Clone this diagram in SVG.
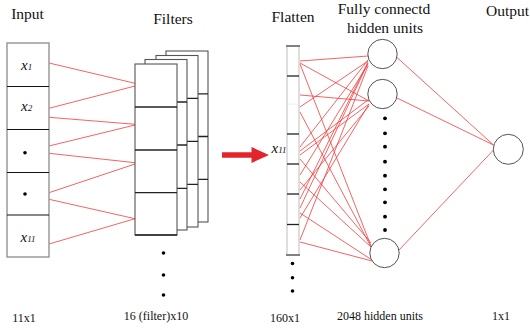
<svg xmlns="http://www.w3.org/2000/svg" width="530" height="330" viewBox="0 0 530 330">
<style>
.lbl{font-family:"Liberation Serif","Times New Roman",serif;font-size:15.5px;fill:#111;text-anchor:middle}
.sm{font-family:"Liberation Serif","Times New Roman",serif;font-size:12px;fill:#111;text-anchor:middle}
.var{font-family:"Liberation Serif","Times New Roman",serif;font-style:italic;fill:#111}
.box{fill:#fff;stroke:#9a9a9a;stroke-width:1.5}
.div{stroke:#111;stroke-width:1.2}
.fil{fill:#fff;stroke:#555;stroke-width:1.1}
.fdiv{stroke:#222;stroke-width:1.3}
.node{fill:#fff;stroke:#555;stroke-width:1}
.dot{fill:#000}
.red{stroke:#f23b3b;stroke-width:0.8;fill:none}
</style>
<rect width="530" height="330" fill="#fff"/>

<g id="labels">
<text class="lbl" x="27.5" y="19">Input</text>
<text class="lbl" x="173" y="23.5">Filters</text>
<text class="lbl" x="293" y="21.5">Flatten</text>
<text class="lbl" x="384" y="14">Fully connectd</text>
<text class="lbl" x="385" y="33">hidden units</text>
<text class="lbl" x="507.5" y="15.5">Output</text>
<text class="sm" x="24" y="322">11x1</text>
<text class="sm" x="156" y="320">16 (filter)x10</text>
<text class="sm" x="285" y="322">160x1</text>
<text class="sm" x="380" y="320">2048 hidden units</text>
<text class="sm" x="501" y="320">1x1</text>
</g>

<g id="connectors">
<g id="input-to-filters" class="red">
<line x1="49" y1="63" x2="135" y2="83.3"/>
<line x1="49" y1="108.3" x2="135" y2="86"/>
<line x1="49" y1="117.3" x2="135" y2="124.3"/>
<line x1="49" y1="146" x2="135" y2="125"/>
<line x1="49" y1="153.3" x2="135" y2="162.7"/>
<line x1="49" y1="192.7" x2="135" y2="164"/>
<line x1="49" y1="199.3" x2="135" y2="218.7"/>
<line x1="49" y1="244" x2="135" y2="218.7"/>
</g>
<g id="flatten-to-hidden" class="red">
<line x1="300" y1="61" x2="368" y2="56"/>
<line x1="300" y1="63" x2="369" y2="101"/>
<line x1="300" y1="64" x2="371" y2="246"/>
<line x1="300" y1="95" x2="369" y2="101"/>
<line x1="300" y1="107" x2="368" y2="61"/>
<line x1="300" y1="112" x2="371" y2="247"/>
<line x1="300" y1="147" x2="368" y2="60"/>
<line x1="300" y1="151" x2="368" y2="100"/>
<line x1="300" y1="155" x2="369" y2="104"/>
<line x1="300" y1="159" x2="371" y2="243"/>
<line x1="300" y1="175" x2="368" y2="64"/>
<line x1="300" y1="182" x2="371" y2="247"/>
<line x1="300" y1="190" x2="369" y2="106"/>
<line x1="300" y1="199" x2="368" y2="62"/>
<line x1="300" y1="208" x2="368" y2="63"/>
<line x1="300" y1="213" x2="372" y2="260"/>
<line x1="300" y1="218" x2="369" y2="104"/>
<line x1="300" y1="240" x2="368" y2="66"/>
<line x1="300" y1="242" x2="372" y2="261"/>
</g>
<g id="hidden-to-output" class="red">
<line x1="397" y1="57.5" x2="493.5" y2="145"/>
<line x1="397" y1="98" x2="493.5" y2="145"/>
<line x1="399" y1="250" x2="493.5" y2="150"/>
</g>
<path id="arrow" d="M222 152.3 L251.5 152.3 L251.5 147 L269 155 L251.5 163 L251.5 157.7 L222 157.7 Z" fill="#e3242b"/>
</g>

<g id="input">
<rect class="box" x="7" y="43" width="42" height="214"/>
<line class="div" x1="7" y1="86.5" x2="49" y2="86.5"/>
<line class="div" x1="7" y1="129.5" x2="49" y2="129.5"/>
<line class="div" x1="7" y1="172.5" x2="49" y2="172.5"/>
<line class="div" x1="7" y1="215" x2="49" y2="215"/>
<text class="var" x="21" y="69.5" font-size="15">x<tspan font-size="9">1</tspan></text>
<text class="var" x="21" y="111" font-size="15">x<tspan font-size="9">2</tspan></text>
<circle class="dot" cx="25" cy="152.7" r="1.8"/>
<circle class="dot" cx="25" cy="194" r="1.8"/>
<text class="var" x="20.5" y="241.5" font-size="15">x<tspan font-size="9">11</tspan></text>
</g>

<g id="filters">
<g id="filter-4">
<rect class="fil" x="166" y="51" width="42" height="171"/>
<line class="fdiv" x1="166" y1="93.8" x2="208" y2="93.8"/>
<line class="fdiv" x1="166" y1="136.5" x2="208" y2="136.5"/>
<line class="fdiv" x1="166" y1="179.3" x2="208" y2="179.3"/>
</g>
<g id="filter-3">
<rect class="fil" x="156" y="55.5" width="42" height="171.5"/>
<line class="fdiv" x1="156" y1="98.3" x2="198" y2="98.3"/>
<line class="fdiv" x1="156" y1="141.3" x2="198" y2="141.3"/>
<line class="fdiv" x1="156" y1="184.3" x2="198" y2="184.3"/>
</g>
<g id="filter-2">
<rect class="fil" x="145" y="59.5" width="42" height="170.5"/>
<line class="fdiv" x1="145" y1="102" x2="187" y2="102"/>
<line class="fdiv" x1="145" y1="145" x2="187" y2="145"/>
<line class="fdiv" x1="145" y1="188.3" x2="187" y2="188.3"/>
</g>
<g id="filter-1">
<rect class="fil" x="135" y="64" width="42" height="171"/>
<line class="fdiv" x1="135" y1="107" x2="177" y2="107"/>
<line class="fdiv" x1="135" y1="150" x2="177" y2="150"/>
<line class="fdiv" x1="135" y1="192.7" x2="177" y2="192.7"/>
<line class="fdiv" x1="135" y1="235" x2="177" y2="235"/>
</g>
<circle class="dot" cx="163.5" cy="253" r="1.8"/>
<circle class="dot" cx="163.5" cy="275" r="1.8"/>
<circle class="dot" cx="163.5" cy="295" r="1.8"/>
</g>

<g id="flatten">
<rect x="287" y="46" width="12" height="209" fill="#fff" stroke="#c8c8c8" stroke-width="1.2"/>
<line x1="286" y1="46" x2="300" y2="46" stroke="#777" stroke-width="1.8"/>
<line x1="286" y1="255" x2="300" y2="255" stroke="#777" stroke-width="1.8"/>
<line class="fdiv" x1="287" y1="76" x2="299" y2="76"/>
<line x1="287" y1="104" x2="299" y2="104" stroke="#eee" stroke-width="1"/>
<line class="fdiv" x1="287" y1="134" x2="299" y2="134"/>
<line class="fdiv" x1="287" y1="164" x2="299" y2="164"/>
<line class="fdiv" x1="287" y1="194" x2="299" y2="194"/>
<line class="fdiv" x1="287" y1="224.5" x2="299" y2="224.5"/>
<text class="var" x="271.5" y="153" font-size="15">x<tspan font-size="9">11</tspan></text>
<circle class="dot" cx="292.5" cy="263.5" r="1.8"/>
<circle class="dot" cx="292.5" cy="277.7" r="1.8"/>
<circle class="dot" cx="292.5" cy="291" r="1.8"/>
</g>

<g id="hidden">
<circle id="h1" class="node" cx="382.5" cy="54" r="14.7"/>
<circle id="h2" class="node" cx="382.5" cy="94" r="14.7"/>
<circle id="h3" class="node" cx="384.5" cy="253" r="14.7"/>
<circle class="dot" cx="385" cy="118.3" r="1.9"/>
<circle class="dot" cx="385" cy="133.3" r="1.9"/>
<circle class="dot" cx="385" cy="146.7" r="1.9"/>
<circle class="dot" cx="385" cy="161.7" r="1.9"/>
<circle class="dot" cx="385" cy="175.7" r="1.9"/>
<circle class="dot" cx="385" cy="189.3" r="1.9"/>
<circle class="dot" cx="385" cy="202.3" r="1.9"/>
<circle class="dot" cx="385" cy="216.7" r="1.9"/>
<circle class="dot" cx="385" cy="230" r="1.9"/>
</g>

<g id="output">
<circle class="node" cx="508.3" cy="149.3" r="15"/>
</g>
</svg>
